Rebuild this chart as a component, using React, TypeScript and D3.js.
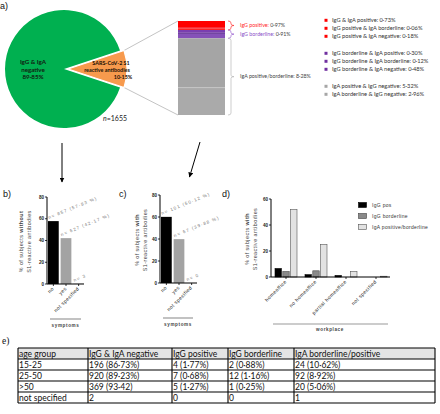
import React from 'react';
import * as d3 from 'd3';

// ---------- data ----------
const pieLabels = ['IgG & IgA negative', 'SARS-CoV-2 S1 reactive antibodies'];
const pieValues = [89.85, 10.15];
const pieTotal = 'n=1655';

const stackValues = [0.73, 0.06, 0.18, 0.3, 0.12, 0.48, 5.32, 2.96];
const stackGroup = [0, 0, 0, 1, 1, 1, 2, 2];
const groupLabels = ['IgG positive:', 'IgG borderline:', 'IgA positive/borderline:'];
const groupTotals = ['0·97%', '0·91%', '8·28%'];

const legendLabels = [
  'IgG  & IgA positive: 0·73%',
  'IgG positive & IgA borderline: 0·06%',
  'IgG positive & IgA negative: 0·18%',
  'IgG borderline & IgA positive: 0·30%',
  'IgG borderline & IgA borderline: 0·12%',
  'IgG borderline & IgA negative: 0·48%',
  'IgA positive & IgG negative: 5·32%',
  'IgA borderline & IgG negative: 2·96%',
];

const symptomCats = ['no', 'yes', 'not specified'];
const withoutValues = [57.83, 42.17, 0.2];
const withoutN = ['n= 857 (57·83 %)', 'n= 627 (42·17 %)', 'n= 3'];
const withValues = [60.12, 39.88, 0];
const withN = ['n= 101 (60·12 %)', 'n= 67 (39·88 %)', 'n= 0'];
const symptomTicks = [0, 20, 40, 60, 80];

const workCats = ['homeoffice', 'no homeoffice', 'partial homeoffice', 'not specified'];
const workSeries = ['IgG pos', 'IgG borderline', 'IgA positive/borderline'];
const igGPos = [6.55, 1.79, 1.19, 0];
const igGBorder = [4.17, 4.76, 0, 0];
const igAPosBorder = [51.79, 25.0, 4.17, 0.6];
const workTicks = [0, 20, 40, 60];

const tableHeader = ['age group', 'IgG & IgA negative', 'IgG positive', 'IgG borderline', 'IgA borderline/positive'];
const tableRows = [
  ['15-25', '196 (86·73%)', '4 (1·77%)', '2 (0·88%)', '24 (10·62%)'],
  ['25-50', '920 (89·23%)', '7 (0·68%)', '12 (1·16%)', '92 (8·92%)'],
  ['>50', '369 (93·42)', '5 (1·27%)', '1 (0·25%)', '20 (5·06%)'],
  ['not specified', '2', '0', '0', '1'],
];

// ---------- styles ----------
const SANS = 'Liberation Sans, Arial, sans-serif';
const CAL = 'Lato, Carlito, sans-serif';
const pieColors = ['#00b050', '#f79a4d'];
const stackColors = ['#ff0000', '#e0102a', '#ff2020', '#7a3db0', '#5c2a90', '#8550b8', '#a5a5a5', '#aaaaaa'];
const groupColors = ['#ff3030', '#9a5fcf', '#b8b8b8'];
const legendColors = ['#ff0000', '#ff0000', '#ff0000', '#7030a0', '#7030a0', '#7030a0', '#a6a6a6', '#a6a6a6'];

function PanelA() {
  const cx = 64, cy = 69, r = 59, off = 4;
  const a0 = Math.PI / 2 + Math.PI * (pieValues[1] / 100);
  const pie = d3.pie<number>().sort(null).startAngle(a0).endAngle(a0 + 2 * Math.PI);
  const arcs = pie(pieValues);
  const arc = d3.arc<d3.PieArcDatum<number>>().innerRadius(0).outerRadius(r);
  const o = arcs[1];
  const ocx = cx + off;
  const c1 = [ocx + r * Math.sin(o.startAngle), cy - r * Math.cos(o.startAngle)];
  const c2 = [ocx + r * Math.sin(o.endAngle), cy - r * Math.cos(o.endAngle)];

  const sx0 = 178, sx1 = 225;
  const total = d3.sum(stackValues);
  const sy = d3.scaleLinear().domain([0, total]).range([21, 115]);
  const cum = [0, ...d3.cumsum(stackValues)];
  const groups = [0, 1, 2].map((g) => {
    const idx = stackGroup.map((v, i) => (v === g ? i : -1)).filter((i) => i >= 0);
    return { y0: sy(cum[idx[0]]), y1: sy(cum[idx[idx.length - 1] + 1]) };
  });
  const legendY = [22, 30, 38, 55, 63, 71, 88, 96];

  const brace = (y0: number, y1: number) => {
    const m = (y0 + y1) / 2;
    const x = 228;
    return `M${x},${y0} Q${x + 3},${y0} ${x + 3},${y0 + 2} L${x + 3},${m - 1.5} Q${x + 3},${m} ${x + 6},${m} Q${x + 3},${m} ${x + 3},${m + 1.5} L${x + 3},${y1 - 2} Q${x + 3},${y1} ${x},${y1}`;
  };

  return (
    <g>
      <line x1={c1[0]} y1={c1[1]} x2={sx0} y2={21} stroke="#c4c4c4" strokeWidth={1} />
      <line x1={c2[0]} y1={c2[1]} x2={sx0} y2={115} stroke="#c4c4c4" strokeWidth={1} />
      <path d={arc(arcs[0]) || ''} transform={`translate(${cx},${cy})`} fill={pieColors[0]} />
      <path d={arc(arcs[1]) || ''} transform={`translate(${ocx},${cy})`} fill={pieColors[1]} stroke="#fff" strokeWidth={1.2} />
      <g fontFamily={CAL} fontWeight="bold" fontSize={6.2} fill="#102010" textAnchor="middle">
        <text x={33} y={64}>IgG &amp; IgA</text>
        <text x={33} y={71.8}>negative</text>
        <text x={33} y={79.3}>89·85%</text>
      </g>
      <g fontFamily={CAL} fontWeight="bold" fontSize={5.4} fill="#201005" textAnchor="middle">
        <text x={111} y={64.5}>SARS-CoV-2 S1</text>
        <text x={107} y={71.5}>reactive antibodies</text>
        <text x={123} y={78.5}>10·15%</text>
      </g>
      <text x={103} y={121} fontFamily={CAL} fontSize={7} fill="#222">
        <tspan fontStyle="italic">n</tspan>=1655
      </text>
      {stackValues.map((v, i) => (
        <rect key={i} x={sx0} width={sx1 - sx0} y={sy(cum[i])} height={sy(cum[i + 1]) - sy(cum[i])} fill={stackColors[i]} />
      ))}
      <line x1={sx0} x2={sx1} y1={sy(cum[7])} y2={sy(cum[7])} stroke="#c8c8c8" strokeWidth={0.8} />
      {groups.map((g, i) => (
        <g key={i}>
          <path d={brace(g.y0, g.y1)} fill="none" stroke={groupColors[i]} strokeWidth={0.7} />
          <text x={240} y={(g.y0 + g.y1) / 2 + 1.8} fontFamily={CAL} fontSize={5.3} fill="#444">
            <tspan fill={i === 0 ? '#ff2a2a' : i === 1 ? '#8a4fc8' : '#444'}>{groupLabels[i]}</tspan> {groupTotals[i]}
          </text>
        </g>
      ))}
      {legendLabels.map((l, i) => (
        <g key={i}>
          <rect x={324.5} y={legendY[i] - 3.2} width={3} height={3} fill={legendColors[i]} />
          <text x={332} y={legendY[i]} fontFamily={CAL} fontSize={5.7} fill="#333">{l}</text>
        </g>
      ))}
    </g>
  );
}

function SymptomChart(props: {
  x0: number; y0: number; y80: number; values: number[]; labels: string[];
  bold: string; lx: number; lineX: [number, number]; lineY: number;
}) {
  const { x0, y0, y80, values, labels, bold, lx, lineX, lineY } = props;
  const y = d3.scaleLinear().domain([0, 80]).range([y0, y80]);
  const x = d3.scaleBand<string>().domain(symptomCats).range([x0 + 1, x0 + 37]).paddingInner(0.15).paddingOuter(0);
  const colors = ['#000000', '#a3a3a3', '#a3a3a3'];
  const mid = (y0 + y80) / 2 + 1;
  return (
    <g fontFamily={SANS}>
      {values.map((v, i) => (
        <rect key={i} x={x(symptomCats[i])} width={x.bandwidth()} y={y(v)} height={Math.max(0, y0 - y(v))} fill={colors[i]} />
      ))}
      <line x1={x0} x2={x0} y1={y80} y2={y0} stroke="#000" strokeWidth={1} />
      <line x1={x0} x2={x0 + 37} y1={y0} y2={y0} stroke="#000" strokeWidth={1} />
      {symptomTicks.map((t) => (
        <g key={t}>
          <line x1={x0 - 2} x2={x0} y1={y(t)} y2={y(t)} stroke="#000" strokeWidth={0.8} />
          <text x={x0 - 3} y={y(t) + 1.6} textAnchor="end" fontSize={4.6} fontWeight="bold" fill="#222">{t}</text>
        </g>
      ))}
      {symptomCats.map((c, i) => {
        const cxp = (x(c) || 0) + x.bandwidth() / 2;
        return (
          <g key={c}>
            <line x1={cxp} x2={cxp} y1={y0} y2={y0 + 2} stroke="#000" strokeWidth={0.8} />
            <text x={cxp + 1} y={y0 + 5} textAnchor="end" fontSize={5} letterSpacing={0.4} fill="#222"
              transform={`rotate(-45 ${cxp + 1} ${y0 + 5})`}>{c}</text>
            <text x={(x(c) || 0) + 1} y={y(values[i]) - 2} fontSize={4.5} letterSpacing={1.1} fill="#777"
              transform={`rotate(-22 ${(x(c) || 0) + 1} ${y(values[i]) - 2})`}>{labels[i]}</text>
          </g>
        );
      })}
      <g fontSize={5.3} letterSpacing={0.45} fill="#444" textAnchor="middle">
        <text x={lx} y={mid} transform={`rotate(-90 ${lx} ${mid})`}>% of subjects <tspan fontWeight="bold">{bold}</tspan></text>
        <text x={lx + 7.5} y={mid} transform={`rotate(-90 ${lx + 7.5} ${mid})`}>S1-reactive antibodies</text>
      </g>
      <line x1={lineX[0]} x2={lineX[1]} y1={lineY} y2={lineY} stroke="#999" strokeWidth={1.2} />
      <text x={(lineX[0] + lineX[1]) / 2} y={lineY + 7.5} textAnchor="middle" fontSize={4.6} fontWeight="bold" letterSpacing={0.6} fill="#444">symptoms</text>
    </g>
  );
}

function PanelD() {
  const x0 = 271, y0 = 277, y60 = 199;
  const y = d3.scaleLinear().domain([0, 60]).range([y0, y60]);
  const x = d3.scaleBand<string>().domain(workCats).range([x0, x0 + 120]);
  const sub = d3.scaleBand<string>().domain(workSeries).range([-11, 11]).paddingInner(0.18);
  const series = [igGPos, igGBorder, igAPosBorder];
  const fills = ['#000000', '#8a8a8a', '#e2e2e2'];
  const strokes = ['#000', '#444', '#555'];
  const mid = (y0 + y60) / 2 + 1;
  const lx = 249;
  return (
    <g fontFamily={SANS}>
      {workCats.map((c, ci) => {
        const gc = (x(c) || 0) + x.bandwidth() / 2;
        return series.map((s, si) => (
          s[ci] > 0 ? (
            <rect key={`${ci}-${si}`} x={gc + (sub(workSeries[si]) || 0)} width={sub.bandwidth()} y={y(s[ci])} height={y0 - y(s[ci])}
              fill={fills[si]} stroke={strokes[si]} strokeWidth={0.6} />
          ) : null
        ));
      })}
      <line x1={x0} x2={x0} y1={y60} y2={y0} stroke="#000" strokeWidth={1} />
      <line x1={x0} x2={x0 + 119} y1={y0} y2={y0} stroke="#000" strokeWidth={1} />
      {workTicks.map((t) => (
        <g key={t}>
          <line x1={x0 - 2} x2={x0} y1={y(t)} y2={y(t)} stroke="#000" strokeWidth={0.8} />
          <text x={x0 - 3} y={y(t) + 1.6} textAnchor="end" fontSize={4.6} fontWeight="bold" fill="#222">{t}</text>
        </g>
      ))}
      {workCats.map((c) => {
        const gc = (x(c) || 0) + x.bandwidth() / 2;
        return (
          <g key={c}>
            <line x1={gc} x2={gc} y1={y0} y2={y0 + 2} stroke="#000" strokeWidth={0.8} />
            <text x={gc + 1} y={y0 + 5} textAnchor="end" fontSize={5} letterSpacing={0.4} fill="#222"
              transform={`rotate(-45 ${gc + 1} ${y0 + 5})`}>{c}</text>
          </g>
        );
      })}
      <g fontSize={5.3} letterSpacing={0.45} fill="#444" textAnchor="middle">
        <text x={lx} y={mid} transform={`rotate(-90 ${lx} ${mid})`}>% of subjects <tspan fontWeight="bold">with</tspan></text>
        <text x={lx + 7.5} y={mid} transform={`rotate(-90 ${lx + 7.5} ${mid})`}>S1-reactive antibodies</text>
      </g>
      {workSeries.map((s, i) => (
        <g key={s}>
          <rect x={358.5} y={202.5 + i * 11} width={8} height={5} fill={fills[i]} stroke={strokes[i]} strokeWidth={0.6} />
          <text x={372} y={206.8 + i * 11} fontSize={5} letterSpacing={0.3} fill="#333">{s}</text>
        </g>
      ))}
      <line x1={273} x2={388} y1={324} y2={324} stroke="#999" strokeWidth={1.2} />
      <text x={330} y={331} textAnchor="middle" fontSize={4.6} fontWeight="bold" letterSpacing={0.6} fill="#444">workplace</text>
    </g>
  );
}

function PanelE() {
  const cols = [18, 88, 172, 228, 294, 435];
  const rowY = d3.range(6).map((i) => 348 + i * 11);
  const all = [tableHeader, ...tableRows];
  return (
    <g fontFamily={CAL}>
      <rect x={cols[0]} y={rowY[0]} width={cols[5] - cols[0]} height={11} fill="#e4e4e4" />
      {all.map((row, ri) =>
        row.map((cell, ci) => (
          <text key={`${ri}-${ci}`} x={cols[ci] + 1} y={rowY[ri] + 8.8} fontSize={8.5} fill="#111">{cell}</text>
        ))
      )}
      {rowY.map((yy, i) => (
        <line key={`h${i}`} x1={cols[0]} x2={cols[5]} y1={yy} y2={yy} stroke="#000" strokeWidth={1.1} />
      ))}
      {cols.map((xx, i) => (
        <line key={`v${i}`} x1={xx} x2={xx} y1={rowY[0]} y2={rowY[5]} stroke="#000" strokeWidth={1.1} />
      ))}
    </g>
  );
}

export default function App() {
  return (
    <svg width={440} height={414} viewBox="0 0 440 414" style={{ position: 'absolute', left: 0, top: 0, background: '#fff' }}>
      <defs>
        <marker id="ah" viewBox="0 0 10 10" refX="9" refY="5" markerWidth="5" markerHeight="5" orient="auto">
          <path d="M0,0 L10,5 L0,10 z" fill="#000" />
        </marker>
      </defs>
      <rect width={440} height={414} fill="#fff" />
      <PanelA />
      <line x1={62} y1={143} x2={62} y2={182} stroke="#000" strokeWidth={1} markerEnd="url(#ah)" />
      <line x1={200} y1={142} x2={189.5} y2={177} stroke="#000" strokeWidth={1} markerEnd="url(#ah)" />
      <SymptomChart x0={47} y0={284} y80={197} values={withoutValues} labels={withoutN} bold="without" lx={23}
        lineX={[50, 81]} lineY={319} />
      <SymptomChart x0={160} y0={283} y80={195} values={withValues} labels={withN} bold="with" lx={139}
        lineX={[163, 193]} lineY={318} />
      <PanelD />
      <PanelE />
      <g fontFamily={SANS} fontSize={9} fill="#111">
        <text x={0} y={9}>a)</text>
        <text x={3} y={197}>b)</text>
        <text x={119} y={197}>c)</text>
        <text x={222} y={197}>d)</text>
      </g>
      <text x={2} y={344} fontFamily="Liberation Serif, serif" fontSize={9.5} fill="#111">e)</text>
    </svg>
  );
}
